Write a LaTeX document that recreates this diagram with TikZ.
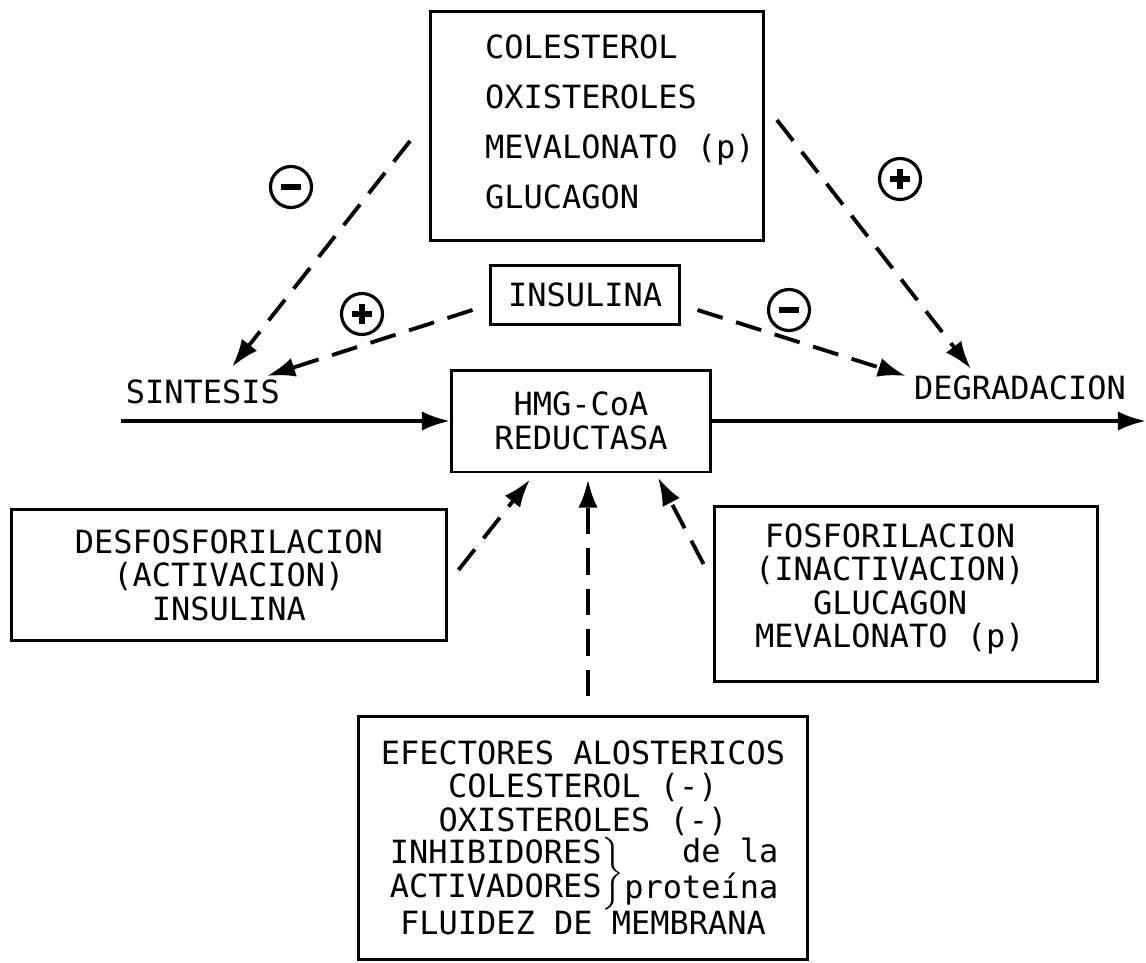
\documentclass[tikz,border=0pt]{standalone}
\usepackage{amsmath}
\usepackage{fontspec}
\setmonofont{DejaVu Sans Mono}
\usepackage{tikz}
\usetikzlibrary{arrows.meta, positioning, calc}
\newcommand{\signomenos}{\rule{0.4cm}{3.2pt}}
\newcommand{\signomas}{\makebox[0pt]{\rule[-0.2cm]{3.2pt}{0.4cm}}\makebox[0pt]{\rule[-1.6pt]{0.4cm}{3.2pt}}}

\begin{document}
\begin{tikzpicture}[
		x=0.02cm, y=-0.02cm,
		font=\ttfamily\fontsize{18.2}{19}\selectfont,
		caja/.style={rectangle, draw, line width=1.7pt, align=center, inner sep=0pt},
		flecha/.style={-{Latex[length=16pt, width=11pt]}, line width=2.2pt, dash pattern=on 15pt off 8pt},
		via/.style={-{Latex[length=16pt, width=11pt]}, line width=2.2pt},
		signo/.style={circle, draw, line width=1.8pt, minimum size=0.82cm, inner sep=0pt},
	]
		\useasboundingbox (0,0) rectangle (1146,963);

		%Nodes
		\node (reguladores) [caja, minimum width=6.66cm, minimum height=4.6cm] at (597,126) {};
		\node (listareg) [
			align=left,
			anchor=west,
			font=\ttfamily\fontsize{18.2}{28.4}\selectfont
			] at (479,122) {COLESTEROL\\ OXISTEROLES\\ MEVALONATO (p)\\ GLUCAGON};
		\node (insulina) [caja, minimum width=3.8cm, minimum height=1.18cm] at (585,295) {INSULINA};
		\node (hmg) [caja, minimum width=5.18cm, minimum height=2.04cm] at (581,421) {HMG-CoA\\ REDUCTASA};

		\node (sintesis) at (203,392) {SINTESIS};
		\node (degradacion) at (1020,388) {DEGRADACION};

		\node (desfosforilacion) [
			caja,
			minimum width=8.72cm,
			minimum height=2.64cm
			] at (229,575) {DESFOSFORILACION\\ (ACTIVACION)\\ INSULINA};
		\node (fosforilacion) [
			caja,
			minimum width=7.68cm,
			minimum height=3.5cm
			] at (906,594) {};
		\node (listafos) [align=center] at (890,589) {FOSFORILACION\\ (INACTIVACION)\\ GLUCAGON\\ MEVALONATO (p)};
		\node (efectores) [
			caja,
			minimum width=9.0cm,
			minimum height=4.86cm
			] at (583,838) {
				EFECTORES ALOSTERICOS\\
				COLESTEROL (-)\\
				OXISTEROLES (-)\\
				$\left.\begin{tabular}{@{}l@{}}INHIBIDORES\\ ACTIVADORES\end{tabular}\right\}$%
				\begin{tabular}{@{}r@{}}de la\\ proteína\end{tabular}\\
				FLUIDEZ DE MEMBRANA
			};

		\node (menos1) [signo] at (291,187) {\signomenos};
		\node (mas1) [signo] at (900,179) {\signomas};
		\node (mas2) [signo] at (362,314) {\signomas};
		\node (menos2) [signo] at (789,310) {\signomenos};

		\coordinate (entrada) at (121,421);
		\coordinate (salida) at (1146,421);

		%Lines
		\draw[via] (entrada) -- (hmg.west);
		\draw[via] (hmg.east) -- (salida);

		\draw[flecha] ($(reguladores.west) + (-19,15)$) -- ($(sintesis) + (29,-25)$);
		\draw[flecha] ($(reguladores.east) + (12,-6)$) -- ($(degradacion) + (-49,-19)$);
		\draw[flecha] ($(insulina.west) + (-16,15)$) -- ($(sintesis) + (64,-16)$);
		\draw[flecha] ($(insulina.east) + (16,15)$) -- ($(degradacion) + (-114,-12)$);

		\draw[flecha] ($(desfosforilacion.east) + (10,-5)$) -- ($(hmg.south) + (-51,6)$);
		\draw[flecha] ($(efectores.north) + (5,-19)$) -- ($(hmg.south) + (7,6)$);
		\draw[flecha] ($(fosforilacion.west) + (-9,-30)$) -- ($(hmg.south) + (77,4)$);
	\end{tikzpicture}
\end{document}
